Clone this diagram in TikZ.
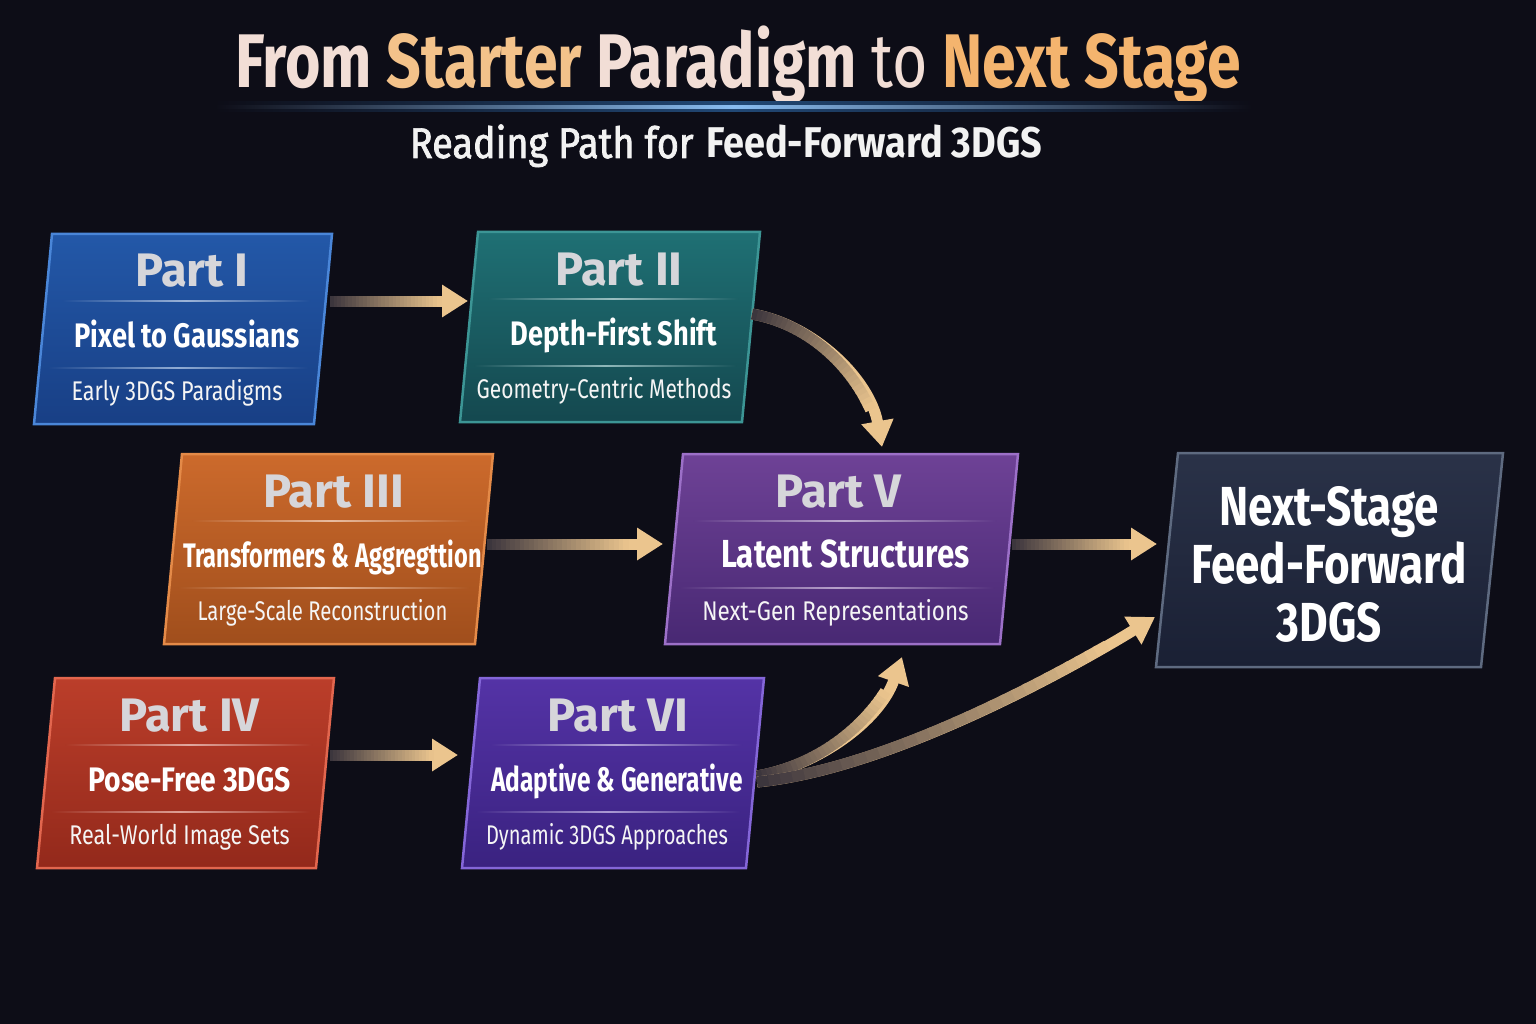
\documentclass[tikz,border=0pt]{standalone}
\usepackage{fontspec}
\setmainfont{Fira Sans}
\newfontfamily\cf[FakeStretch=0.8]{Fira Sans}
\newfontfamily\cfm[FakeStretch=0.8,FakeBold=1.6]{Fira Sans}
\usetikzlibrary{arrows.meta,calc}
\definecolor{bg}{HTML}{0D0D17}
\definecolor{silver}{HTML}{D6D6DA}
\definecolor{arrowtan}{HTML}{EBC58E}
\definecolor{arrowdark}{HTML}{3A343C}
\definecolor{ttlA}{HTML}{F2DED6}
\definecolor{ttlB}{HTML}{F3C28A}
\definecolor{ttlC}{HTML}{F4B46E}
\definecolor{glow}{HTML}{3A90E8}
\definecolor{c1t}{RGB}{35,88,168}\definecolor{c1b}{RGB}{24,63,133}\definecolor{c1d}{RGB}{74,134,216}
\definecolor{c2t}{RGB}{31,112,116}\definecolor{c2b}{RGB}{20,72,79}\definecolor{c2d}{RGB}{60,149,149}
\definecolor{c3t}{RGB}{204,106,44}\definecolor{c3b}{RGB}{160,78,28}\definecolor{c3d}{RGB}{228,138,72}
\definecolor{c4t}{RGB}{187,62,42}\definecolor{c4b}{RGB}{147,41,27}\definecolor{c4d}{RGB}{226,102,78}
\definecolor{c5t}{RGB}{110,66,150}\definecolor{c5b}{RGB}{72,40,115}\definecolor{c5d}{RGB}{156,112,200}
\definecolor{c6t}{RGB}{84,51,166}\definecolor{c6b}{RGB}{58,34,128}\definecolor{c6d}{RGB}{132,102,216}
\definecolor{cnt}{RGB}{42,50,72}\definecolor{cnb}{RGB}{26,32,52}\definecolor{cnd}{RGB}{94,106,128}
\newcommand\partbox[9]{%
 \begin{scope}[shift={(#2,#3)}]
  \shade[line width=2.5pt, top color=#5t, bottom color=#5b, draw=#5d] (0,0) -- (#4,0) -- (#4-18,190) -- (-18,190) -- cycle;
  \shade[left color=#5t!62!#5b, right color=#5t!62!#5b, middle color=white!55!#5t] (10,66.2) rectangle (#4-22,67.8);
  \shade[left color=#5t!28!#5b, right color=#5t!28!#5b, middle color=white!50!#5t] (-4,133.2) rectangle (#4-24,134.8);
  \node[ptitle] (#1-title) at (#4/2+#9,53) {#6};
  \node[psub] (#1-sub) at (#4/2-5,113) {#7};
  \node[pbot] (#1-bot) at (#4/2-15,166) {#8};
 \end{scope}}
\newcommand\garrow[4]{%
  \draw[arrowtan, line width=11pt, -{Triangle[length=26pt,width=31pt]}] (#1) .. controls (#2) and (#3) .. (#4);
  \foreach \gi in {0,...,29}{%
    \pgfmathsetmacro\gta{\gi*0.8/30}
    \pgfmathsetmacro\gtb{(\gi+1.3)*0.8/30}
    \pgfmathtruncatemacro\gp{100*(\gi+0.5)/30}
    \path (#1) .. controls (#2) and (#3) .. (#4) coordinate[pos=\gta] (ga) coordinate[pos=\gtb] (gb);
    \draw[arrowtan!\gp!arrowdark, line width=11pt] (ga) -- (gb);
  }}
\newcommand\gline[2]{\garrow{#1}{$(#1)!0.33!(#2)$}{$(#1)!0.67!(#2)$}{#2}}
\newcommand\hs[2]{\scalebox{#1}[1]{#2}}
\begin{document}
\begin{tikzpicture}[x=1pt,y=-1pt,
  ptitle/.style={font=\fontsize{47}{50}\selectfont\bfseries, text=silver, anchor=base, inner sep=0pt},
  psub/.style={font=\cf\fontsize{34}{38}\selectfont\bfseries, text=white, anchor=base, inner sep=0pt},
  pbot/.style={font=\cf\fontsize{27}{30}\selectfont, text=white!92!gray, anchor=base, inner sep=0pt},
]
\fill[bg] (0,0) rectangle (1536,1024);
\useasboundingbox (0,0) rectangle (1536,1024);

% title
\node[anchor=base, inner sep=0pt, font=\cf\fontsize{76}{80}\selectfont\bfseries] (title) at (738,88)
 {\textcolor{ttlA}{From} \textcolor{ttlB}{Starter} \textcolor{ttlA}{Paradigm} {\mdseries\textcolor{ttlA}{to}} \textcolor{ttlC}{Next Stage}};
\shade[left color=bg, right color=bg, middle color=glow!45!bg] (215,102) rectangle (1252,112);
\shade[left color=bg, right color=bg, middle color=glow!60!white] (215,105.8) rectangle (1252,108.2);
\node[anchor=base, inner sep=0pt, font=\fontsize{43}{48}\selectfont, text=white!90!gray] (subtitle) at (726,158)
 {\hs{1.1}{{\cfm Reading Path for} {\cf\bfseries Feed-Forward 3DGS}}};

% boxes
\partbox{pI}{52}{234}{280}{c1}{Part I}{Pixel to Gaussians}{Early 3DGS Paradigms}{0}
\partbox{pII}{478}{232}{282}{c2}{Part II}{Depth-First Shift}{\hs{0.97}{Geometry-Centric Methods}}{0}
\partbox{pIII}{182}{454}{311}{c3}{Part III}{\hs{0.865}{Transformers \& Aggregttion}}{\hs{0.94}{Large-Scale Reconstruction}}{-4}
\partbox{pV}{683}{454}{335}{c5}{Part V}{\scalebox{1.15}{Latent Structures}}{\hs{1.04}{Next-Gen Representations}}{-12}
\partbox{pIV}{55}{678}{279}{c4}{Part IV}{\hs{1.04}{Pose-Free 3DGS}}{Real-World Image Sets}{-5}
\partbox{pVI}{480}{678}{284}{c6}{Part VI}{\hs{0.9}{Adaptive \& Generative}}{\hs{0.93}{Dynamic 3DGS Approaches}}{-4}

\shade[line width=2.5pt, top color=cnt, bottom color=cnb, draw=cnd] (1178,453) -- (1503,453) -- (1481,667) -- (1156,667) -- cycle;
\node[align=center, inner sep=0pt, font=\cf\fontsize{55}{58}\selectfont\bfseries, text=white] (next) at (1329,564)
 {Next-Stage\\Feed-Forward\\3DGS};

% connector endpoints
\coordinate (a1s) at (330,301); \coordinate (a1e) at (468,301);
\coordinate (a2s) at (752,314); \coordinate (a2c) at (815,325); \coordinate (a2d) at (870,380); \coordinate (a2e) at (882,447);
\coordinate (a3s) at (487,544); \coordinate (a3e) at (663,544);
\coordinate (a4s) at (1012,544); \coordinate (a4e) at (1157,544);
\coordinate (a5s) at (330,755); \coordinate (a5e) at (458,755);
\coordinate (a6s) at (757,776); \coordinate (a6c) at (820,765); \coordinate (a6d) at (880,720); \coordinate (a6e) at (902,657);
\coordinate (a7s) at (757,782); \coordinate (a7c) at (900,768); \coordinate (a7d) at (1095,654); \coordinate (a7e) at (1155,617);

\gline{a1s}{a1e}
\garrow{a2s}{a2c}{a2d}{a2e}
\gline{a3s}{a3e}
\gline{a4s}{a4e}
\gline{a5s}{a5e}
\garrow{a6s}{a6c}{a6d}{a6e}
\garrow{a7s}{a7c}{a7d}{a7e}
\end{tikzpicture}
\end{document}
